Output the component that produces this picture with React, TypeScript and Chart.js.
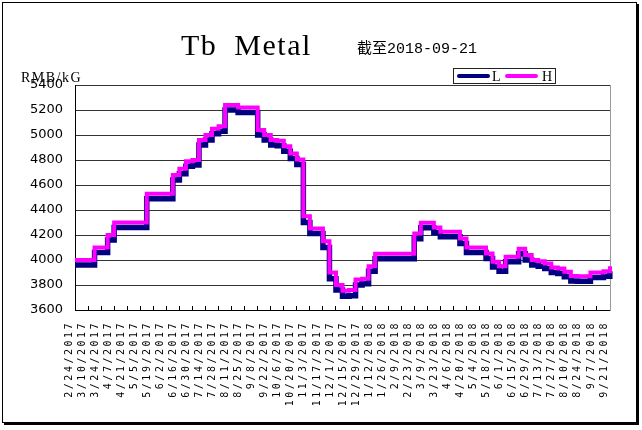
import React, { useEffect, useRef } from "react";
import { Chart, registerables } from "chart.js";

Chart.register(...registerables);

// Weekly dates (labels shown every two weeks)
const dates = [
  "2/24/2017", "3/3/2017", "3/10/2017", "3/17/2017", "3/24/2017", "3/31/2017", "4/7/2017", "4/14/2017", "4/21/2017", "4/28/2017",
  "5/5/2017", "5/12/2017", "5/19/2017", "5/26/2017", "6/2/2017", "6/9/2017", "6/16/2017", "6/23/2017", "6/30/2017", "7/7/2017",
  "7/14/2017", "7/21/2017", "7/28/2017", "8/4/2017", "8/11/2017", "8/18/2017", "8/25/2017", "9/1/2017", "9/8/2017", "9/15/2017",
  "9/22/2017", "9/29/2017", "10/6/2017", "10/13/2017", "10/20/2017", "10/27/2017", "11/3/2017", "11/10/2017", "11/17/2017", "11/24/2017",
  "12/1/2017", "12/8/2017", "12/15/2017", "12/22/2017", "12/29/2017", "1/5/2018", "1/12/2018", "1/19/2018", "1/26/2018", "2/2/2018",
  "2/9/2018", "2/16/2018", "2/23/2018", "3/2/2018", "3/9/2018", "3/16/2018", "3/23/2018", "3/30/2018", "4/6/2018", "4/13/2018",
  "4/20/2018", "4/27/2018", "5/4/2018", "5/11/2018", "5/18/2018", "5/25/2018", "6/1/2018", "6/8/2018", "6/15/2018", "6/22/2018",
  "6/29/2018", "7/6/2018", "7/13/2018", "7/20/2018", "7/27/2018", "8/3/2018", "8/10/2018", "8/17/2018", "8/24/2018", "8/31/2018",
  "9/7/2018", "9/14/2018", "9/21/2018",
];

const seriesL = [
  3960, 3960, 3960, 4060, 4060, 4160, 4260, 4260, 4260, 4260,
  4260, 4490, 4490, 4490, 4490, 4640, 4690, 4750, 4760, 4920,
  4960, 5010, 5030, 5200, 5200, 5180, 5180, 5180, 5000, 4960,
  4920, 4915, 4870, 4813, 4765, 4300, 4213, 4213, 4100, 3850,
  3760, 3710, 3715, 3800, 3810, 3910, 4010, 4010, 4010, 4010,
  4010, 4010, 4170, 4258, 4258, 4220, 4187, 4187, 4187, 4133,
  4060, 4060, 4060, 4013, 3945, 3910, 3987, 3987, 4050, 4000,
  3960, 3950, 3933, 3900, 3893, 3867, 3832, 3830, 3830, 3860,
  3860, 3870, 3910,
];

const seriesH = [
  4000, 4000, 4000, 4100, 4100, 4200, 4300, 4300, 4300, 4300,
  4300, 4530, 4530, 4530, 4530, 4680, 4730, 4790, 4800, 4960,
  5000, 5050, 5070, 5240, 5240, 5220, 5220, 5220, 5040, 5000,
  4960, 4955, 4910, 4853, 4805, 4350, 4253, 4253, 4150, 3900,
  3800, 3755, 3760, 3845, 3850, 3950, 4050, 4050, 4050, 4050,
  4050, 4050, 4213, 4298, 4298, 4260, 4227, 4227, 4227, 4173,
  4100, 4100, 4100, 4053, 3987, 3950, 4027, 4027, 4090, 4040,
  4000, 3990, 3973, 3940, 3933, 3907, 3872, 3870, 3870, 3900,
  3900, 3910, 3950,
];

const seriesNames = ["L", "H"];
const yMin = 3600;
const yMax = 5400;
const yStep = 200;

const xLetterSpacing = {
  id: "xLetterSpacing",
  beforeDraw(chart: any) {
    const sx: any = chart.scales.x;
    if (sx && !sx.__ls) {
      const orig = sx.drawLabels;
      sx.drawLabels = function (area: any) {
        const ctx = this.ctx;
        ctx.save();
        (ctx as any).letterSpacing = "2.5px";
        orig.call(this, area);
        ctx.restore();
      };
      sx.__ls = true;
    }
  },
};

export default function App() {
  const ref = useRef<HTMLCanvasElement>(null);

  useEffect(() => {
    if (!ref.current) return;
    const chart = new Chart(ref.current, {
      type: "line",
      data: {
        labels: dates,
        datasets: [
          {
            label: seriesNames[1],
            data: seriesH,
            borderColor: "#ff00ff",
            backgroundColor: "#ff00ff",
            borderWidth: 4,
            pointRadius: 0,
            stepped: true,
            order: 0,
          },
          {
            label: seriesNames[0],
            data: seriesL,
            borderColor: "#000080",
            backgroundColor: "#000080",
            borderWidth: 5.5,
            pointRadius: 0,
            stepped: true,
            order: 1,
          },
        ],
      },
      options: {
        responsive: false,
        animation: false,
        devicePixelRatio: 1,
        layout: { padding: { top: 85, right: 32, bottom: 0, left: 0 } },
        plugins: {
          legend: { display: false },
          title: { display: false },
          tooltip: { enabled: false },
        },
        scales: {
          x: {
            type: "category",
            offset: false,
            grid: {
              drawOnChartArea: false,
              drawTicks: true,
              tickLength: -4,
              color: "#000",
              lineWidth: 1,
            },
            border: { color: "#000", width: 1 },
            ticks: {
              autoSkip: false,
              minRotation: 90,
              maxRotation: 90,
              padding: 15,
              labelOffset: -6,
              color: "#000",
              font: { family: "'DejaVu Sans Mono'", size: 10 },
              callback: (_v: any, i: number) => (i % 2 === 0 ? dates[i] : null),
            },
            afterFit: (s: any) => {
              s.height = 120;
            },
          },
          y: {
            min: yMin,
            max: yMax,
            ticks: {
              stepSize: yStep,
              padding: 12,
              color: "#000",
              font: { family: "'DejaVu Sans'", size: 13 },
              callback: (v: any) => String(v),
            },
            grid: { color: "#333", drawTicks: false, lineWidth: 1 },
            border: { color: "#000", width: 1 },
            afterFit: (s: any) => {
              s.width = 75;
            },
          },
          y2: {
            position: "right",
            min: yMin,
            max: yMax,
            ticks: { display: false },
            grid: { drawOnChartArea: false, drawTicks: false },
            border: { color: "#999", width: 1 },
            afterFit: (s: any) => {
              s.width = 0;
            },
          },
        },
      },
      plugins: [xLetterSpacing],
    });
    return () => chart.destroy();
  }, []);

  const serif = "'Liberation Serif', serif";

  return (
    <div
      style={{
        position: "absolute",
        left: 0,
        top: 0,
        width: 642,
        height: 430,
        background: "#fff",
        overflow: "hidden",
      }}
    >
      <div
        style={{
          position: "absolute",
          left: 2,
          top: 2,
          width: 633,
          height: 419,
          border: "1px solid #000",
          boxShadow: "2px 2px 0 #000",
          background: "#fff",
        }}
      />
      <canvas
        ref={ref}
        width={642}
        height={430}
        style={{ position: "absolute", left: 0, top: 0 }}
      />
      <div
        style={{
          position: "absolute",
          left: 181,
          top: 30,
          font: `30px ${serif}`,
          lineHeight: "30px",
          letterSpacing: "1.5px",
          wordSpacing: "8px",
          whiteSpace: "nowrap",
          color: "#000",
        }}
      >
        Tb Metal
      </div>
      <div
        style={{
          position: "absolute",
          left: 357,
          top: 42,
          font: "15px 'Liberation Mono', 'Noto Sans CJK SC', monospace",
          lineHeight: "15px",
          whiteSpace: "nowrap",
          color: "#000",
        }}
      >
        截至2018-09-21
      </div>
      <div
        style={{
          position: "absolute",
          left: 21,
          top: 71,
          font: `14px ${serif}`,
          lineHeight: "14px",
          letterSpacing: "1.5px",
          whiteSpace: "nowrap",
          color: "#000",
        }}
      >
        RMB/kG
      </div>
      <div
        style={{
          position: "absolute",
          left: 453,
          top: 68,
          width: 101,
          height: 14,
          border: "1px solid #222",
          background: "#fff",
        }}
      >
        <div style={{ position: "absolute", left: 3, top: 4.5, width: 33, height: 4, background: "#000080", borderRadius: 2 }} />
        <div style={{ position: "absolute", left: 38, top: 1, font: `14px ${serif}`, lineHeight: "14px", color: "#000" }}>
          {seriesNames[0]}
        </div>
        <div style={{ position: "absolute", left: 51, top: 4.5, width: 33, height: 4, background: "#ff00ff", borderRadius: 2 }} />
        <div style={{ position: "absolute", left: 88, top: 1, font: `14px ${serif}`, lineHeight: "14px", color: "#000" }}>
          {seriesNames[1]}
        </div>
      </div>
    </div>
  );
}
